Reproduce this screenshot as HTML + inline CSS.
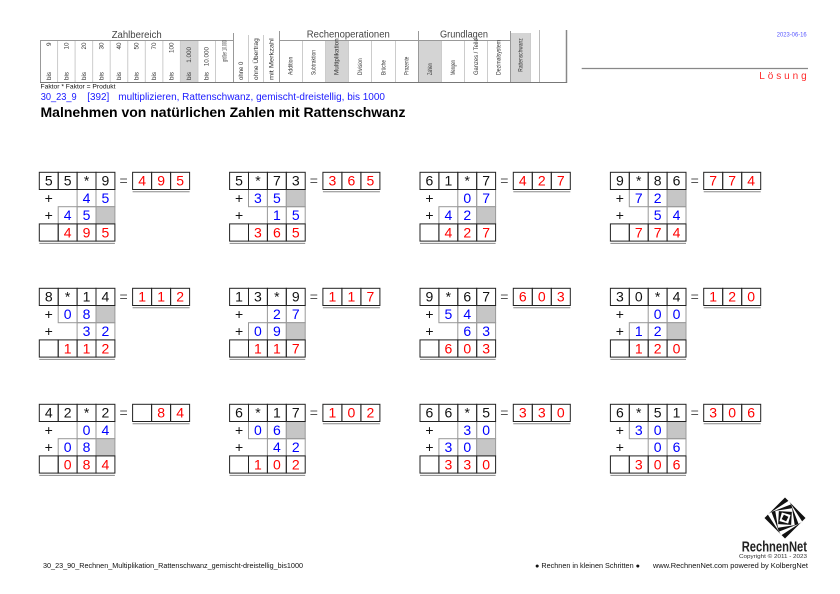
<!DOCTYPE html>
<html><head><meta charset="utf-8">
<style>
html,body{margin:0;padding:0;background:#fff;}
body{width:840px;height:594px;overflow:hidden;}
svg{display:block;}
text{font-family:"Liberation Sans",Arial,sans-serif;}
.n{font-size:14px;text-anchor:middle;}
.k{fill:#111;}
.u{fill:#0000ff;}
.r{fill:#ff0000;}
.e{fill:#555;}
.lb{font-size:6.3px;fill:#333;}
.fk{fill:none;stroke:#222;stroke-width:1;}
.fg{fill:none;stroke:#999;stroke-width:1;}
.fs{fill:#c6c6c6;stroke:#999;stroke-width:1;}
</style></head>
<body>
<svg width="840" height="594" viewBox="0 0 840 594" xmlns="http://www.w3.org/2000/svg">
<defs>
<g id="fr">
 <rect class="fk" x="0" y="0" width="18.9" height="17.2"/>
 <rect class="fk" x="18.9" y="0" width="18.9" height="17.2"/>
 <rect class="fk" x="37.8" y="0" width="18.9" height="17.2"/>
 <rect class="fk" x="56.7" y="0" width="18.9" height="17.2"/>
 <rect class="fk" x="0" y="51.6" width="18.9" height="17.2"/>
 <rect class="fk" x="18.9" y="51.6" width="18.9" height="17.2"/>
 <rect class="fk" x="37.8" y="51.6" width="18.9" height="17.2"/>
 <rect class="fk" x="56.7" y="51.6" width="18.9" height="17.2"/>
 <rect class="fk" x="93.3" y="0" width="19" height="17.2"/>
 <rect class="fk" x="112.3" y="0" width="19" height="17.2"/>
 <rect class="fk" x="131.3" y="0" width="19" height="17.2"/>
 <line x1="0" y1="71.1" x2="75.6" y2="71.1" stroke="#888" stroke-width="1"/>
 <line x1="93.3" y1="19.4" x2="150.3" y2="19.4" stroke="#888" stroke-width="1"/>
</g>
<g id="gX">
 <rect class="fg" x="37.8" y="17.2" width="18.9" height="17.2"/>
 <rect class="fg" x="56.7" y="17.2" width="18.9" height="17.2"/>
 <rect class="fg" x="18.9" y="34.4" width="18.9" height="17.2"/>
 <rect class="fg" x="37.8" y="34.4" width="18.9" height="17.2"/>
 <rect class="fs" x="56.7" y="34.4" width="18.9" height="17.2"/>
</g>
<g id="gY">
 <rect class="fg" x="18.9" y="17.2" width="18.9" height="17.2"/>
 <rect class="fg" x="37.8" y="17.2" width="18.9" height="17.2"/>
 <rect class="fs" x="56.7" y="17.2" width="18.9" height="17.2"/>
 <rect class="fg" x="37.8" y="34.4" width="18.9" height="17.2"/>
 <rect class="fg" x="56.7" y="34.4" width="18.9" height="17.2"/>
</g>
</defs>

<!-- ===== HEADER ===== -->
<rect x="180.4" y="41" width="17.55" height="41" fill="#d4d4d4"/>
<rect x="325" y="41" width="23.4" height="41" fill="#d4d4d4"/>
<rect x="418.5" y="41" width="23.2" height="41" fill="#d4d4d4"/>
<rect x="510.5" y="33" width="20" height="49" fill="#d4d4d4"/>

<g stroke="#ccc" stroke-width="1">
 <line x1="57.55" y1="41" x2="57.55" y2="82"/>
 <line x1="75.1" y1="41" x2="75.1" y2="82"/>
 <line x1="92.65" y1="41" x2="92.65" y2="82"/>
 <line x1="110.2" y1="41" x2="110.2" y2="82"/>
 <line x1="127.75" y1="41" x2="127.75" y2="82"/>
 <line x1="145.3" y1="41" x2="145.3" y2="82"/>
 <line x1="162.85" y1="41" x2="162.85" y2="82"/>
 <line x1="180.4" y1="41" x2="180.4" y2="82"/>
 <line x1="197.95" y1="41" x2="197.95" y2="82"/>
 <line x1="215.5" y1="41" x2="215.5" y2="82"/>
 <line x1="248.5" y1="35" x2="248.5" y2="82"/>
 <line x1="263.5" y1="35" x2="263.5" y2="82"/>
 <line x1="302.5" y1="41" x2="302.5" y2="82"/>
 <line x1="325.5" y1="41" x2="325.5" y2="82"/>
 <line x1="348.5" y1="41" x2="348.5" y2="82"/>
 <line x1="371.5" y1="41" x2="371.5" y2="82"/>
 <line x1="395.5" y1="41" x2="395.5" y2="82"/>
 <line x1="441.5" y1="41" x2="441.5" y2="82"/>
 <line x1="464.5" y1="41" x2="464.5" y2="82"/>
 <line x1="487.5" y1="41" x2="487.5" y2="82"/>
 <line x1="530.5" y1="33" x2="530.5" y2="82"/>
</g>
<g stroke="#999" stroke-width="1">
 <line x1="40" y1="40.5" x2="233.5" y2="40.5"/>
 <line x1="279.5" y1="40.5" x2="418.5" y2="40.5"/>
 <line x1="418.5" y1="40.5" x2="510.5" y2="40.5"/>
 <line x1="40.5" y1="40" x2="40.5" y2="82"/>
 <line x1="233.5" y1="33" x2="233.5" y2="82"/>
 <line x1="279.5" y1="31" x2="279.5" y2="82"/>
 <line x1="418.5" y1="31" x2="418.5" y2="82"/>
 <line x1="510.5" y1="31" x2="510.5" y2="82"/>
 <line x1="539.5" y1="30" x2="539.5" y2="82" stroke="#bbb"/>
</g>
<line x1="566.5" y1="30" x2="566.5" y2="83" stroke="#888" stroke-width="1.5"/>
<line x1="40" y1="82.5" x2="567" y2="82.5" stroke="#777" stroke-width="1"/>

<text x="136.7" y="38" font-size="9.8" fill="#444" text-anchor="middle" textLength="50" lengthAdjust="spacingAndGlyphs">Zahlbereich</text>
<text x="348.3" y="37.7" font-size="9.8" fill="#444" text-anchor="middle" textLength="83" lengthAdjust="spacingAndGlyphs">Rechenoperationen</text>
<text x="464" y="37.7" font-size="9.8" fill="#444" text-anchor="middle" textLength="48" lengthAdjust="spacingAndGlyphs">Grundlagen</text>

<!-- Zahlbereich labels -->
<g class="lb">
 <text transform="translate(50.8,80) rotate(-90)">bis</text>
 <text transform="translate(68.3,80) rotate(-90)">bis</text>
 <text transform="translate(85.9,80) rotate(-90)">bis</text>
 <text transform="translate(103.4,80) rotate(-90)">bis</text>
 <text transform="translate(121,80) rotate(-90)">bis</text>
 <text transform="translate(138.5,80) rotate(-90)">bis</text>
 <text transform="translate(156.1,80) rotate(-90)">bis</text>
 <text transform="translate(173.6,80) rotate(-90)">bis</text>
 <text transform="translate(191.2,80) rotate(-90)">bis</text>
 <text transform="translate(208.7,80) rotate(-90)">bis</text>
 <text transform="translate(50.8,42.5) rotate(-90)" text-anchor="end">9</text>
 <text transform="translate(68.3,42.5) rotate(-90)" text-anchor="end">10</text>
 <text transform="translate(85.9,42.5) rotate(-90)" text-anchor="end">20</text>
 <text transform="translate(103.4,42.5) rotate(-90)" text-anchor="end">30</text>
 <text transform="translate(121,42.5) rotate(-90)" text-anchor="end">40</text>
 <text transform="translate(138.5,42.5) rotate(-90)" text-anchor="end">50</text>
 <text transform="translate(156.1,42.5) rotate(-90)" text-anchor="end">70</text>
 <text transform="translate(173.6,42.5) rotate(-90)" text-anchor="end">100</text>
 <text transform="translate(191.2,47) rotate(-90)" text-anchor="end">1.000</text>
 <text transform="translate(208.7,47) rotate(-90)" text-anchor="end">10.000</text>
 <text transform="translate(226.3,62) rotate(-90)" textLength="21.7" lengthAdjust="spacingAndGlyphs">größer 10.000</text>
 <text transform="translate(242.8,80) rotate(-90)" textLength="18.3" lengthAdjust="spacingAndGlyphs">ohne 0</text>
 <text transform="translate(258,80) rotate(-90)" textLength="41.7" lengthAdjust="spacingAndGlyphs">ohne Übertrag</text>
 <text transform="translate(273.5,80) rotate(-90)" textLength="41.7" lengthAdjust="spacingAndGlyphs">mit Merkzahl</text>
 <text transform="translate(292.7,75) rotate(-90)" textLength="18.3" lengthAdjust="spacingAndGlyphs">Addition</text>
 <text transform="translate(315.3,75) rotate(-90)" textLength="25" lengthAdjust="spacingAndGlyphs">Subtraktion</text>
 <text transform="translate(338.7,75) rotate(-90)" textLength="36.7" lengthAdjust="spacingAndGlyphs">Multiplikation</text>
 <text transform="translate(362,75) rotate(-90)" textLength="16.7" lengthAdjust="spacingAndGlyphs">Division</text>
 <text transform="translate(385.3,75) rotate(-90)" textLength="15" lengthAdjust="spacingAndGlyphs">Brüche</text>
 <text transform="translate(408.7,75) rotate(-90)" textLength="18.3" lengthAdjust="spacingAndGlyphs">Prozente</text>
 <text transform="translate(432,75) rotate(-90)" textLength="11.7" lengthAdjust="spacingAndGlyphs">Zahlen</text>
 <text transform="translate(455,75) rotate(-90)" textLength="15" lengthAdjust="spacingAndGlyphs">Mengen</text>
 <text transform="translate(478,75) rotate(-90)" textLength="36.7" lengthAdjust="spacingAndGlyphs">Ganzes / Teile</text>
 <text transform="translate(500.7,75) rotate(-90)" textLength="35" lengthAdjust="spacingAndGlyphs">Dezimalsystem</text>
 <text transform="translate(522.5,71.7) rotate(-90)" textLength="33.4" lengthAdjust="spacingAndGlyphs">Rattenschwanz</text>
</g>

<text x="806.7" y="36.7" font-size="6" fill="#5555ff" text-anchor="end" textLength="30" lengthAdjust="spacingAndGlyphs">2023-06-16</text>
<line x1="581.7" y1="68.5" x2="808" y2="68.5" stroke="#888" stroke-width="1.3"/>
<text x="759.3" y="79" font-size="10" fill="#ff2a2a" textLength="47.4" lengthAdjust="spacing">Lösung</text>

<text x="40.5" y="88.3" font-size="6.5" fill="#111" textLength="75" lengthAdjust="spacingAndGlyphs">Faktor * Faktor = Produkt</text>
<text x="40.7" y="100" font-size="10" fill="#1a1aff" textLength="36" lengthAdjust="spacingAndGlyphs">30_23_9</text>
<text x="87.3" y="100" font-size="10" fill="#1a1aff" textLength="22" lengthAdjust="spacingAndGlyphs">[392]</text>
<text x="118.3" y="100" font-size="10" fill="#1a1aff" textLength="266.7" lengthAdjust="spacingAndGlyphs">multiplizieren, Rattenschwanz, gemischt-dreistellig, bis 1000</text>
<text x="40.5" y="117" font-size="14" font-weight="bold" fill="#000" textLength="365" lengthAdjust="spacingAndGlyphs">Malnehmen von natürlichen Zahlen mit Rattenschwanz</text>

<!-- ===== BLOCKS ===== -->
<!-- B1 -->
<g transform="translate(39.3,172.3)">
 <use href="#gX"/><use href="#fr"/>
 <g class="n">
 <text class="k" x="9.45" y="13.4">5</text><text class="k" x="28.35" y="13.4">5</text><text class="k" x="47.25" y="13.4">*</text><text class="k" x="66.15" y="13.4">9</text>
 <text class="e" x="84.3" y="13.4">=</text>
 <text class="r" x="102.8" y="13.4">4</text><text class="r" x="121.8" y="13.4">9</text><text class="r" x="140.8" y="13.4">5</text>
 <text class="k" x="9.45" y="30.6">+</text><text class="u" x="47.25" y="30.6">4</text><text class="u" x="66.15" y="30.6">5</text>
 <text class="k" x="9.45" y="47.8">+</text><text class="u" x="28.35" y="47.8">4</text><text class="u" x="47.25" y="47.8">5</text>
 <text class="r" x="28.35" y="65">4</text><text class="r" x="47.25" y="65">9</text><text class="r" x="66.15" y="65">5</text>
 </g>
</g>
<!-- B2 -->
<g transform="translate(229.6,172.3)">
 <use href="#gY"/><use href="#fr"/>
 <g class="n">
 <text class="k" x="9.45" y="13.4">5</text><text class="k" x="28.35" y="13.4">*</text><text class="k" x="47.25" y="13.4">7</text><text class="k" x="66.15" y="13.4">3</text>
 <text class="e" x="84.3" y="13.4">=</text>
 <text class="r" x="102.8" y="13.4">3</text><text class="r" x="121.8" y="13.4">6</text><text class="r" x="140.8" y="13.4">5</text>
 <text class="k" x="9.45" y="30.6">+</text><text class="u" x="28.35" y="30.6">3</text><text class="u" x="47.25" y="30.6">5</text>
 <text class="k" x="9.45" y="47.8">+</text><text class="u" x="47.25" y="47.8">1</text><text class="u" x="66.15" y="47.8">5</text>
 <text class="r" x="28.35" y="65">3</text><text class="r" x="47.25" y="65">6</text><text class="r" x="66.15" y="65">5</text>
 </g>
</g>
<!-- B3 -->
<g transform="translate(420,172.3)">
 <use href="#gX"/><use href="#fr"/>
 <g class="n">
 <text class="k" x="9.45" y="13.4">6</text><text class="k" x="28.35" y="13.4">1</text><text class="k" x="47.25" y="13.4">*</text><text class="k" x="66.15" y="13.4">7</text>
 <text class="e" x="84.3" y="13.4">=</text>
 <text class="r" x="102.8" y="13.4">4</text><text class="r" x="121.8" y="13.4">2</text><text class="r" x="140.8" y="13.4">7</text>
 <text class="k" x="9.45" y="30.6">+</text><text class="u" x="47.25" y="30.6">0</text><text class="u" x="66.15" y="30.6">7</text>
 <text class="k" x="9.45" y="47.8">+</text><text class="u" x="28.35" y="47.8">4</text><text class="u" x="47.25" y="47.8">2</text>
 <text class="r" x="28.35" y="65">4</text><text class="r" x="47.25" y="65">2</text><text class="r" x="66.15" y="65">7</text>
 </g>
</g>
<!-- B4 -->
<g transform="translate(610.4,172.3)">
 <use href="#gY"/><use href="#fr"/>
 <g class="n">
 <text class="k" x="9.45" y="13.4">9</text><text class="k" x="28.35" y="13.4">*</text><text class="k" x="47.25" y="13.4">8</text><text class="k" x="66.15" y="13.4">6</text>
 <text class="e" x="84.3" y="13.4">=</text>
 <text class="r" x="102.8" y="13.4">7</text><text class="r" x="121.8" y="13.4">7</text><text class="r" x="140.8" y="13.4">4</text>
 <text class="k" x="9.45" y="30.6">+</text><text class="u" x="28.35" y="30.6">7</text><text class="u" x="47.25" y="30.6">2</text>
 <text class="k" x="9.45" y="47.8">+</text><text class="u" x="47.25" y="47.8">5</text><text class="u" x="66.15" y="47.8">4</text>
 <text class="r" x="28.35" y="65">7</text><text class="r" x="47.25" y="65">7</text><text class="r" x="66.15" y="65">4</text>
 </g>
</g>
<!-- B5 -->
<g transform="translate(39.3,288.3)">
 <use href="#gY"/><use href="#fr"/>
 <g class="n">
 <text class="k" x="9.45" y="13.4">8</text><text class="k" x="28.35" y="13.4">*</text><text class="k" x="47.25" y="13.4">1</text><text class="k" x="66.15" y="13.4">4</text>
 <text class="e" x="84.3" y="13.4">=</text>
 <text class="r" x="102.8" y="13.4">1</text><text class="r" x="121.8" y="13.4">1</text><text class="r" x="140.8" y="13.4">2</text>
 <text class="k" x="9.45" y="30.6">+</text><text class="u" x="28.35" y="30.6">0</text><text class="u" x="47.25" y="30.6">8</text>
 <text class="k" x="9.45" y="47.8">+</text><text class="u" x="47.25" y="47.8">3</text><text class="u" x="66.15" y="47.8">2</text>
 <text class="r" x="28.35" y="65">1</text><text class="r" x="47.25" y="65">1</text><text class="r" x="66.15" y="65">2</text>
 </g>
</g>
<!-- B6 -->
<g transform="translate(229.6,288.3)">
 <use href="#gX"/><use href="#fr"/>
 <g class="n">
 <text class="k" x="9.45" y="13.4">1</text><text class="k" x="28.35" y="13.4">3</text><text class="k" x="47.25" y="13.4">*</text><text class="k" x="66.15" y="13.4">9</text>
 <text class="e" x="84.3" y="13.4">=</text>
 <text class="r" x="102.8" y="13.4">1</text><text class="r" x="121.8" y="13.4">1</text><text class="r" x="140.8" y="13.4">7</text>
 <text class="k" x="9.45" y="30.6">+</text><text class="u" x="47.25" y="30.6">2</text><text class="u" x="66.15" y="30.6">7</text>
 <text class="k" x="9.45" y="47.8">+</text><text class="u" x="28.35" y="47.8">0</text><text class="u" x="47.25" y="47.8">9</text>
 <text class="r" x="28.35" y="65">1</text><text class="r" x="47.25" y="65">1</text><text class="r" x="66.15" y="65">7</text>
 </g>
</g>
<!-- B7 -->
<g transform="translate(420,288.3)">
 <use href="#gY"/><use href="#fr"/>
 <g class="n">
 <text class="k" x="9.45" y="13.4">9</text><text class="k" x="28.35" y="13.4">*</text><text class="k" x="47.25" y="13.4">6</text><text class="k" x="66.15" y="13.4">7</text>
 <text class="e" x="84.3" y="13.4">=</text>
 <text class="r" x="102.8" y="13.4">6</text><text class="r" x="121.8" y="13.4">0</text><text class="r" x="140.8" y="13.4">3</text>
 <text class="k" x="9.45" y="30.6">+</text><text class="u" x="28.35" y="30.6">5</text><text class="u" x="47.25" y="30.6">4</text>
 <text class="k" x="9.45" y="47.8">+</text><text class="u" x="47.25" y="47.8">6</text><text class="u" x="66.15" y="47.8">3</text>
 <text class="r" x="28.35" y="65">6</text><text class="r" x="47.25" y="65">0</text><text class="r" x="66.15" y="65">3</text>
 </g>
</g>
<!-- B8 -->
<g transform="translate(610.4,288.3)">
 <use href="#gX"/><use href="#fr"/>
 <g class="n">
 <text class="k" x="9.45" y="13.4">3</text><text class="k" x="28.35" y="13.4">0</text><text class="k" x="47.25" y="13.4">*</text><text class="k" x="66.15" y="13.4">4</text>
 <text class="e" x="84.3" y="13.4">=</text>
 <text class="r" x="102.8" y="13.4">1</text><text class="r" x="121.8" y="13.4">2</text><text class="r" x="140.8" y="13.4">0</text>
 <text class="k" x="9.45" y="30.6">+</text><text class="u" x="47.25" y="30.6">0</text><text class="u" x="66.15" y="30.6">0</text>
 <text class="k" x="9.45" y="47.8">+</text><text class="u" x="28.35" y="47.8">1</text><text class="u" x="47.25" y="47.8">2</text>
 <text class="r" x="28.35" y="65">1</text><text class="r" x="47.25" y="65">2</text><text class="r" x="66.15" y="65">0</text>
 </g>
</g>
<!-- B9 -->
<g transform="translate(39.3,404.3)">
 <use href="#gX"/><use href="#fr"/>
 <g class="n">
 <text class="k" x="9.45" y="13.4">4</text><text class="k" x="28.35" y="13.4">2</text><text class="k" x="47.25" y="13.4">*</text><text class="k" x="66.15" y="13.4">2</text>
 <text class="e" x="84.3" y="13.4">=</text>
 <text class="r" x="121.8" y="13.4">8</text><text class="r" x="140.8" y="13.4">4</text>
 <text class="k" x="9.45" y="30.6">+</text><text class="u" x="47.25" y="30.6">0</text><text class="u" x="66.15" y="30.6">4</text>
 <text class="k" x="9.45" y="47.8">+</text><text class="u" x="28.35" y="47.8">0</text><text class="u" x="47.25" y="47.8">8</text>
 <text class="r" x="28.35" y="65">0</text><text class="r" x="47.25" y="65">8</text><text class="r" x="66.15" y="65">4</text>
 </g>
</g>
<!-- B10 -->
<g transform="translate(229.6,404.3)">
 <use href="#gY"/><use href="#fr"/>
 <g class="n">
 <text class="k" x="9.45" y="13.4">6</text><text class="k" x="28.35" y="13.4">*</text><text class="k" x="47.25" y="13.4">1</text><text class="k" x="66.15" y="13.4">7</text>
 <text class="e" x="84.3" y="13.4">=</text>
 <text class="r" x="102.8" y="13.4">1</text><text class="r" x="121.8" y="13.4">0</text><text class="r" x="140.8" y="13.4">2</text>
 <text class="k" x="9.45" y="30.6">+</text><text class="u" x="28.35" y="30.6">0</text><text class="u" x="47.25" y="30.6">6</text>
 <text class="k" x="9.45" y="47.8">+</text><text class="u" x="47.25" y="47.8">4</text><text class="u" x="66.15" y="47.8">2</text>
 <text class="r" x="28.35" y="65">1</text><text class="r" x="47.25" y="65">0</text><text class="r" x="66.15" y="65">2</text>
 </g>
</g>
<!-- B11 -->
<g transform="translate(420,404.3)">
 <use href="#gX"/><use href="#fr"/>
 <g class="n">
 <text class="k" x="9.45" y="13.4">6</text><text class="k" x="28.35" y="13.4">6</text><text class="k" x="47.25" y="13.4">*</text><text class="k" x="66.15" y="13.4">5</text>
 <text class="e" x="84.3" y="13.4">=</text>
 <text class="r" x="102.8" y="13.4">3</text><text class="r" x="121.8" y="13.4">3</text><text class="r" x="140.8" y="13.4">0</text>
 <text class="k" x="9.45" y="30.6">+</text><text class="u" x="47.25" y="30.6">3</text><text class="u" x="66.15" y="30.6">0</text>
 <text class="k" x="9.45" y="47.8">+</text><text class="u" x="28.35" y="47.8">3</text><text class="u" x="47.25" y="47.8">0</text>
 <text class="r" x="28.35" y="65">3</text><text class="r" x="47.25" y="65">3</text><text class="r" x="66.15" y="65">0</text>
 </g>
</g>
<!-- B12 -->
<g transform="translate(610.4,404.3)">
 <use href="#gY"/><use href="#fr"/>
 <g class="n">
 <text class="k" x="9.45" y="13.4">6</text><text class="k" x="28.35" y="13.4">*</text><text class="k" x="47.25" y="13.4">5</text><text class="k" x="66.15" y="13.4">1</text>
 <text class="e" x="84.3" y="13.4">=</text>
 <text class="r" x="102.8" y="13.4">3</text><text class="r" x="121.8" y="13.4">0</text><text class="r" x="140.8" y="13.4">6</text>
 <text class="k" x="9.45" y="30.6">+</text><text class="u" x="28.35" y="30.6">3</text><text class="u" x="47.25" y="30.6">0</text>
 <text class="k" x="9.45" y="47.8">+</text><text class="u" x="47.25" y="47.8">0</text><text class="u" x="66.15" y="47.8">6</text>
 <text class="r" x="28.35" y="65">3</text><text class="r" x="47.25" y="65">0</text><text class="r" x="66.15" y="65">6</text>
 </g>
</g>

<!-- ===== LOGO ===== -->
<g transform="translate(785,518)">
 <rect x="-14.5" y="-14.5" width="29" height="29" fill="#111" transform="rotate(45)"/>
 <rect x="-12.5" y="-12.5" width="25" height="25" fill="#fff" transform="rotate(57)"/>
 <rect x="-10.5" y="-10.5" width="21" height="21" fill="#111" transform="rotate(69)"/>
 <rect x="-8.5" y="-8.5" width="17" height="17" fill="#fff" transform="rotate(81)"/>
 <rect x="-6.5" y="-6.5" width="13" height="13" fill="#111" transform="rotate(93)"/>
 <rect x="-4.5" y="-4.5" width="9" height="9" fill="#fff" transform="rotate(105)"/>
 <rect x="-2.5" y="-2.5" width="5" height="5" fill="#111" transform="rotate(117)"/>
</g>
<text x="741.7" y="551.5" font-size="15" font-weight="bold" fill="#222" textLength="65.3" lengthAdjust="spacingAndGlyphs">RechnenNet</text>
<text x="739" y="558" font-size="5.5" fill="#333" textLength="68" lengthAdjust="spacingAndGlyphs">Copyright © 2011 - 2023</text>

<!-- ===== FOOTER ===== -->
<text x="43" y="568" font-size="7" fill="#111" textLength="260" lengthAdjust="spacingAndGlyphs">30_23_90_Rechnen_Multiplikation_Rattenschwanz_gemischt-dreistellig_bis1000</text>
<text x="535" y="568" font-size="7" fill="#111" textLength="105" lengthAdjust="spacingAndGlyphs">● Rechnen in kleinen Schritten ●</text>
<text x="653" y="568" font-size="7" fill="#111" textLength="155" lengthAdjust="spacingAndGlyphs">www.RechnenNet.com powered by KolbergNet</text>
</svg>
</body></html>
